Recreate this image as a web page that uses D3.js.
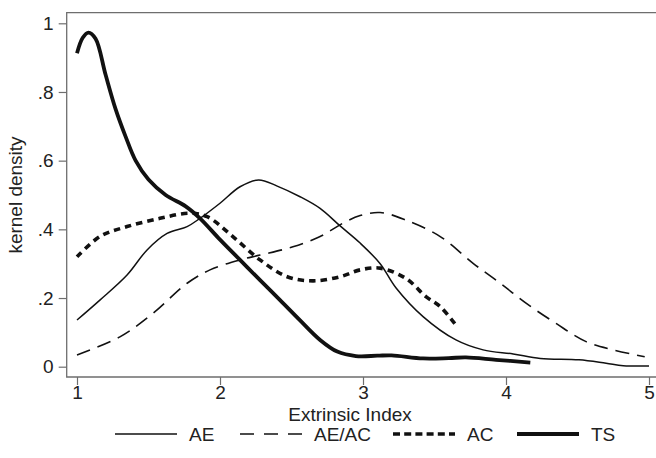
<!DOCTYPE html>
<html lang="en">
<head>
  <meta charset="UTF-8" />
  <title>Kernel density of Extrinsic Index</title>
  <script src="https://d3js.org/d3.v7.min.js"></script>
  <style>
    html, body {
      margin: 0;
      padding: 0;
      background: #fff;
    }
    svg {
      display: block;
      font-family: "Liberation Sans", Arial, Helvetica, sans-serif;
    }
    .frame { stroke: #6e6e6e; stroke-width: 1.3; fill: none; }
    .tick line { stroke: #6e6e6e; stroke-width: 1.2; }
    .tick text { font-size: 19px; fill: #222; font-family: "Liberation Sans", Arial, sans-serif; }
    .axis-title { font-size: 19px; fill: #222; }
    .legend text { font-size: 19px; fill: #222; }
    .curve { fill: none; stroke: #111; }
  </style>
</head>
<body>
  <svg id="chart" width="656" height="458"></svg>
  <script>
    // density curves: [extrinsic index, density]
    const aeData = [
      [1.00, 0.136], [1.16, 0.194], [1.35, 0.267], [1.49, 0.340], [1.63, 0.388],
      [1.77, 0.408], [1.86, 0.432], [2.00, 0.476], [2.14, 0.524], [2.27, 0.544],
      [2.40, 0.526], [2.56, 0.495], [2.70, 0.461], [2.84, 0.410], [2.98, 0.360],
      [3.12, 0.300], [3.23, 0.230], [3.42, 0.146], [3.65, 0.078], [3.84, 0.049],
      [4.05, 0.037], [4.24, 0.024], [4.51, 0.020], [4.70, 0.010], [4.82, 0.003],
      [5.00, 0.002]
    ];
    const aeAcData = [
      [1.00, 0.034], [1.30, 0.087], [1.53, 0.155], [1.77, 0.243], [1.93, 0.282],
      [2.14, 0.311], [2.28, 0.325], [2.51, 0.349], [2.70, 0.379], [2.86, 0.418],
      [2.98, 0.440], [3.12, 0.449], [3.30, 0.427], [3.54, 0.379], [3.77, 0.301],
      [3.96, 0.243], [4.14, 0.185], [4.35, 0.126], [4.56, 0.073], [4.75, 0.049],
      [4.97, 0.029]
    ];
    const acData = [
      [1.00, 0.320], [1.16, 0.379], [1.35, 0.408], [1.58, 0.432], [1.79, 0.447],
      [1.91, 0.437], [2.09, 0.379], [2.28, 0.311], [2.47, 0.262], [2.65, 0.250],
      [2.84, 0.262], [2.98, 0.282], [3.12, 0.287], [3.30, 0.257], [3.44, 0.204],
      [3.54, 0.175], [3.65, 0.121]
    ];
    const tsData = [
      [1.00, 0.913], [1.04, 0.958], [1.08, 0.973], [1.13, 0.955], [1.20, 0.850],
      [1.27, 0.750], [1.34, 0.670], [1.41, 0.600], [1.50, 0.545], [1.62, 0.500],
      [1.76, 0.467], [1.86, 0.432], [2.00, 0.370], [2.14, 0.311], [2.28, 0.252],
      [2.42, 0.194], [2.56, 0.135], [2.70, 0.078], [2.82, 0.044], [2.95, 0.031],
      [3.10, 0.032], [3.20, 0.033], [3.42, 0.024], [3.60, 0.025], [3.72, 0.027],
      [3.93, 0.020], [4.17, 0.012]
    ];

    const seriesNames = ['AE', 'AE/AC', 'AC', 'TS'];
    const seriesData = [aeData, aeAcData, acData, tsData];

    const xTicks = [1, 2, 3, 4, 5];
    const yTicks = [0, 0.2, 0.4, 0.6, 0.8, 1];
    const yTickLabels = ['0', '.2', '.4', '.6', '.8', '1'];

    const styles = {
      'AE':    { width: 1.5, dash: null,    legendDash: null },
      'AE/AC': { width: 1.6, dash: '14,8',  legendDash: '14,10' },
      'AC':    { width: 3.6, dash: '6.5,5', legendDash: '7,4.2' },
      'TS':    { width: 3.8, dash: null,    legendDash: null }
    };

    const svg = d3.select('#chart');
    const frame = { left: 66.7, top: 12.7, bottom: 377 };

    const x = d3.scaleLinear().domain([1, 5]).range([77, 649]);
    const y = d3.scaleLinear().domain([0, 1]).range([366.7, 23.3]);

    // plot frame (right side runs off the picture)
    svg.append('path')
      .attr('class', 'frame')
      .attr('d', `M 670 ${frame.top} H ${frame.left} V ${frame.bottom} H 670`);

    const yAxis = svg.append('g')
      .attr('transform', `translate(${frame.left},0)`)
      .call(d3.axisLeft(y).tickValues(yTicks).tickSize(8).tickPadding(5)
        .tickFormat((d, i) => yTickLabels[i]));
    yAxis.select('.domain').remove();

    const xAxis = svg.append('g')
      .attr('transform', `translate(0,${frame.bottom})`)
      .call(d3.axisBottom(x).tickValues(xTicks).tickSize(8).tickPadding(1)
        .tickFormat(d3.format('d')));
    xAxis.select('.domain').remove();

    svg.append('text')
      .attr('class', 'axis-title')
      .attr('x', 350)
      .attr('y', 421)
      .attr('text-anchor', 'middle')
      .text('Extrinsic Index');

    svg.append('text')
      .attr('class', 'axis-title')
      .attr('transform', 'translate(22,195) rotate(-90)')
      .attr('text-anchor', 'middle')
      .text('kernel density');

    const line = d3.line()
      .x(d => x(d[0]))
      .y(d => y(d[1]))
      .curve(d3.curveCatmullRom.alpha(0.5));

    seriesNames.forEach((name, i) => {
      svg.append('path')
        .attr('class', 'curve')
        .attr('d', line(seriesData[i]))
        .attr('stroke-width', styles[name].width)
        .attr('stroke-dasharray', styles[name].dash);
    });

    // legend
    const legendX = [115, 240, 393, 517];
    const legend = svg.append('g').attr('class', 'legend');
    seriesNames.forEach((name, i) => {
      legend.append('line')
        .attr('class', 'curve')
        .attr('x1', legendX[i]).attr('x2', legendX[i] + 62)
        .attr('y1', 434).attr('y2', 434)
        .attr('stroke-width', styles[name].width)
        .attr('stroke-dasharray', styles[name].legendDash);
      legend.append('text')
        .attr('x', legendX[i] + 74)
        .attr('y', 441)
        .text(name);
    });
  </script>
</body>
</html>
